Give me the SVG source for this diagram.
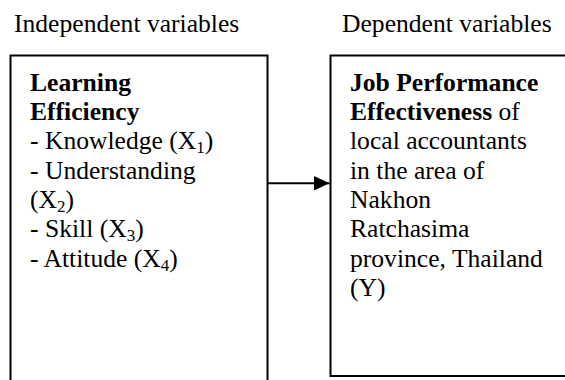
<svg xmlns="http://www.w3.org/2000/svg" width="565" height="380" viewBox="0 0 565 380">
<defs>
<style>
text{font-family:"Liberation Serif","Times New Roman",serif;font-size:25.6px;fill:#000}
.b{font-weight:bold}
.sub{font-size:17px}
.box{fill:#fff;stroke:#000;stroke-width:2}
.conn{stroke:#000;stroke-width:2;fill:none}
</style>
<marker id="arr" markerWidth="16" markerHeight="15" refX="16" refY="7.5" orient="auto" markerUnits="userSpaceOnUse">
<path d="M0,0 L16,7.5 L0,15 Z" fill="#000"/>
</marker>
</defs>
<text x="14" y="32">Independent variables</text>
<text x="342" y="32">Dependent variables</text>
<g id="independent">
<rect class="box" x="10.5" y="55.5" width="257" height="340"/>
<text x="30" y="90.7" class="b">Learning</text>
<text x="30" y="120" class="b">Efficiency</text>
<text x="30" y="149.3">- Knowledge (X<tspan class="sub" dy="4">1</tspan><tspan dy="-4">)</tspan></text>
<text x="30" y="178.7">- Understanding</text>
<text x="30" y="208">(X<tspan class="sub" dy="4">2</tspan><tspan dy="-4">)</tspan></text>
<text x="30" y="237.3">- Skill (X<tspan class="sub" dy="4">3</tspan><tspan dy="-4">)</tspan></text>
<text x="30" y="266.7">- Attitude (X<tspan class="sub" dy="4">4</tspan><tspan dy="-4">)</tspan></text>
</g>
<g id="dependent">
<rect class="box" x="330.5" y="55.5" width="250" height="320.5"/>
<text x="350" y="90.7" class="b">Job Performance</text>
<text x="350" y="120"><tspan class="b">Effectiveness</tspan> of</text>
<text x="350" y="149.3">local accountants</text>
<text x="350" y="178.7">in the area of</text>
<text x="350" y="208">Nakhon</text>
<text x="350" y="237.3">Ratchasima</text>
<text x="350" y="266.7">province, Thailand</text>
<text x="350" y="296">(Y)</text>
</g>
<g id="connectors">
<line class="conn" x1="268" y1="183.3" x2="329.5" y2="183.3" marker-end="url(#arr)"/>
</g>
</svg>
